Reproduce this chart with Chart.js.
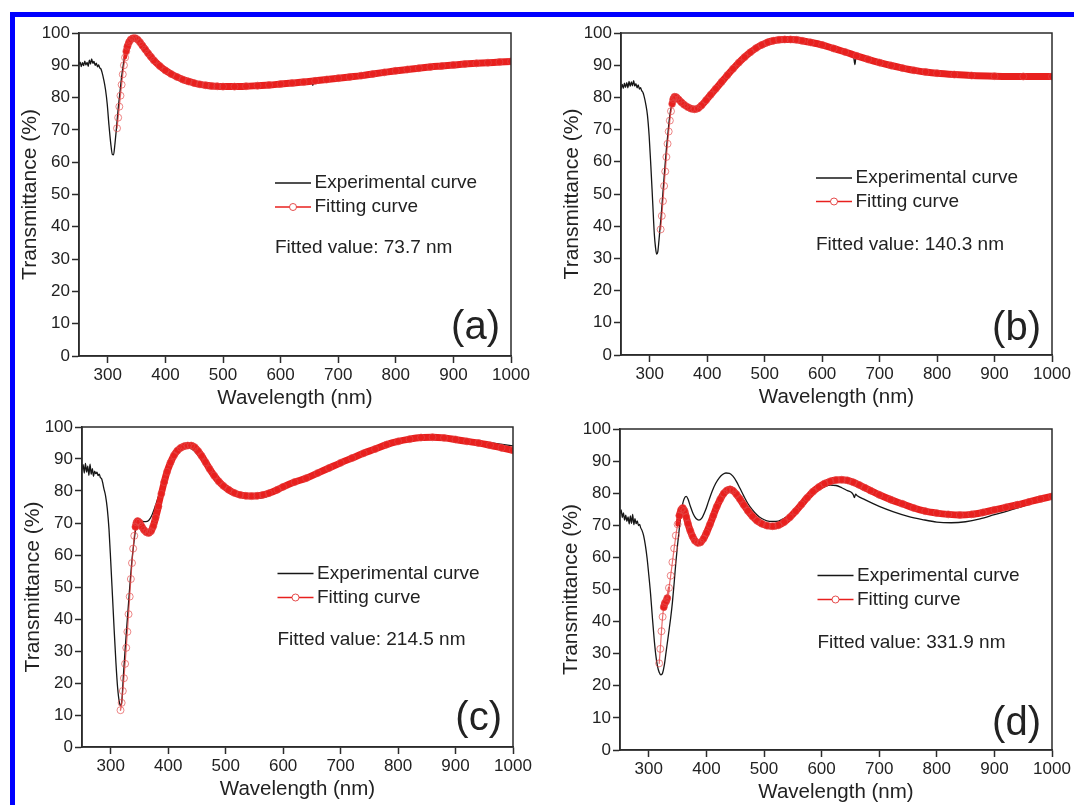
<!DOCTYPE html>
<html>
<head>
<meta charset="utf-8">
<title>Transmittance spectra and thickness fits</title>
<script src="https://cdn.jsdelivr.net/npm/chart.js@4.4.1/dist/chart.umd.min.js"></script>
<style>
  html, body { margin: 0; padding: 0; background: #fff; overflow: hidden; }
  #page { position: relative; width: 1074px; height: 805px; }
  #frame { position: absolute; left: 10px; top: 12px; right: 0; bottom: 0;
           border-top: 5px solid #0000ff; border-left: 5px solid #0000ff; }
  #page canvas { position: absolute; }
</style>
</head>
<body>
<div id="page"><div id="frame"></div></div>
<script>
// ---- data ----------------------------------------------------------------
const panelTags = ['(a)', '(b)', '(c)', '(d)'];
const fittedValues = [73.7, 140.3, 214.5, 331.9];          // film thickness, nm
const seriesNames = ['Experimental curve', 'Fitting curve'];
const xTickValues = [300, 400, 500, 600, 700, 800, 900, 1000];
const yTickValues = [0, 10, 20, 30, 40, 50, 60, 70, 80, 90, 100];

// (a)
const aExpWl = [250,252,254,256,258,260,262,264,266,268,270,272,274,276,278,280,282,284,286,288,290,
  293,296,299,302,305,308,310,312,315,318,321,324,327,330,334,338,342,347,352,358,
  365,372,380,390,400,415,430,450,475,500,530,560,600,650,654,656,658,662,700,750,
  800,850,900,950,1000];
const aExpT = [90.2,91.0,89.6,90.8,89.9,91.3,90.1,90.9,89.7,91.6,90.4,92.0,90.6,91.2,90.0,90.7,89.5,90.1,89.2,88.9,87.8,
  85.5,82.5,78,71.5,66,62.4,62.3,65,70.5,76.5,81.5,86.5,90.3,93.5,96,97.5,98.2,98.5,98,96.5,
  94.8,93.2,91.7,90,88.7,87,85.6,84.5,83.8,83.5,83.5,83.8,84.2,84.9,84.9,83.8,85.0,85.1,85.8,87,
  88.2,89.1,89.9,90.5,91];
const aFitWl = [316,318,320,322,324,326,328,330,332,334,337,340,344,348,352,356,360,365,370,375,
  380,390,400,410,420,430,440,450,460,470,480,490,500,520,540,560,580,600,620,640,
  660,680,700,720,740,760,780,800,820,840,860,880,900,920,940,960,980,1000];
const aFitT = [70.5,73.8,77.2,80.6,84,87.2,90,92.4,94.3,95.8,97.2,98,98.4,98.4,97.9,97.1,96.1,94.9,93.7,92.6,
  91.5,89.8,88.4,87.3,86.4,85.6,85,84.5,84.1,83.8,83.6,83.5,83.4,83.4,83.5,83.7,83.9,84.2,84.5,84.8,
  85.2,85.6,86,86.4,86.8,87.3,87.8,88.3,88.7,89.1,89.5,89.8,90.1,90.4,90.6,90.8,91,91.2];

// (b)
const bExpWl = [250,252,254,256,258,260,262,264,266,268,270,272,274,276,278,280,282,284,286,288,
  290,293,296,299,302,305,308,310,312,314,316,318,320,323,326,329,332,335,338,341,
  345,349,355,362,370,377,385,395,405,420,435,450,465,480,495,510,525,540,555,570,
  585,600,620,640,652,655,657,659,662,680,700,725,750,775,800,850,900,950,1000];
const bExpT = [82.5,84.0,82.8,84.4,83.1,84.6,83.0,85.0,83.4,84.8,83.6,85.2,83.5,84.3,83.0,83.9,82.6,83.0,82.1,81.6,
  80.5,78,74.5,68,58.5,48,37.5,33.5,31.3,32,35.5,39.5,43.5,50.5,57.5,64,69.5,74.5,77.5,79.3,
  80.2,79.8,78.8,77.7,76.8,76.4,76.9,78.7,80.6,83.7,86.8,89.6,92.2,94.3,96,97.2,97.9,98.2,98.1,97.8,
  97.2,96.6,95.4,94.2,93.4,92.5,90.2,92.8,93,92.2,91.2,90.1,89.2,88.5,87.9,87.2,86.8,86.6,86.5];
const bFitWl = [319,321,323,325,327,329,331,333,335,337,339,341,343,346,350,355,360,366,372,378,
  384,390,398,406,415,425,435,445,455,465,475,485,495,505,515,525,535,545,555,565,
  580,600,620,640,660,680,700,720,740,760,780,800,830,860,900,950,1000];
const bFitT = [39,43.2,47.8,52.5,57,61.5,65.6,69.4,72.8,75.7,78,79.5,80.2,80.1,79.4,78.5,77.7,77,76.5,76.3,
  76.6,77.5,79.1,80.8,82.7,84.8,86.9,88.9,90.8,92.5,94,95.3,96.3,97.1,97.6,97.9,98,98,97.9,97.6,
  97.1,96.3,95.2,94.1,92.9,91.8,90.8,89.9,89.1,88.4,87.9,87.5,87.1,86.8,86.6,86.5,86.5];

// (c)
const cExpWl = [250,252,254,256,258,260,262,264,266,268,270,272,274,276,278,280,282,284,286,
  288,291,294,297,300,303,306,309,312,315,317,319,322,325,328,331,334,337,340,343,
  347,351,356,361,366,371,377,383,389,395,401,408,415,423,431,438,445,452,460,470,
  480,490,500,512,525,540,555,570,585,600,625,650,675,700,725,750,775,800,825,850,
  875,900,925,950,975,1000];
const cExpT = [86.5,88.2,85.6,88.6,85.9,87.8,84.9,88.4,85.2,87.0,84.6,86.2,85.4,85.9,84.8,85.3,84.2,83.9,82.6,
  80.8,78.5,74.5,68,58,47.3,36.5,26.5,18.5,14,13,13.8,22.2,30.3,37.8,45,52.2,58.5,63.4,67.6,
  70.1,70.6,70.5,70.4,70.8,72.2,75,78.3,81.5,84.8,87.5,90,91.8,92.8,93.3,93.3,92.6,91.2,89.3,86.4,
  83.9,81.8,80.2,78.9,78.1,77.8,77.8,78.2,79.4,81.3,83.2,85,87,88.9,90.7,92.4,93.9,95.3,96.1,96.6,
  96.6,96.3,95.9,95.3,94.7,94.1];
const cFitWl = [317,319,321,323,325,327,329,331,333,335,337,339,341,343,345,347,350,354,358,362,
  366,370,374,378,383,388,393,398,404,410,416,422,428,434,440,446,452,458,465,472,
  480,488,496,505,515,525,535,545,555,565,575,590,600,620,640,660,680,700,720,740,
  760,780,800,820,840,860,880,900,920,940,960,980,1000];
const cFitT = [11.5,13.8,17.5,21.5,26,31,36,41.5,47,52.5,57.5,62,66,68.8,70.2,70.6,70.2,68.9,67.8,67.1,
  66.9,67.4,69,71.6,75.2,79.1,82.8,86,88.9,91.1,92.6,93.5,94,94.2,94.2,93.7,92.5,91,89,86.9,
  84.8,83,81.6,80.4,79.4,78.8,78.5,78.4,78.5,78.8,79.3,80.4,81.3,82.8,84,85.6,87.2,88.8,90.3,91.8,
  93.1,94.5,95.5,96.2,96.7,96.8,96.6,96.1,95.5,95,94.3,93.5,92.7];

// (d)
const dExpWl = [250,252,254,256,258,260,262,264,266,268,270,272,274,276,278,280,282,284,286,
  288,291,294,297,300,303,306,309,312,315,318,321,324,327,330,334,338,341,344,347,
  350,353,356,359,362,365,368,372,377,382,387,392,398,404,410,416,422,428,434,440,
  446,452,458,465,472,480,488,496,505,515,525,535,545,555,565,575,585,595,605,615,
  625,635,645,652,655,657,659,662,675,700,725,750,775,800,825,850,875,900,925,950,
  975,1000];
const dExpT = [73.6,74.8,72.4,73.9,71.6,73.2,71.2,72.6,70.4,72.9,70.6,73.4,70.2,72.1,70.5,71.4,69.9,70.3,69.2,
  68.5,66.8,63.8,59.8,54.5,48.8,41.8,35.2,29.8,26.2,24.2,23.4,24,26.5,30.5,35.8,41.2,46,52,58.5,
  64,69,73.5,76.8,78.5,79,78.2,76,73.6,72.1,71.6,72.2,74.5,77.6,80.6,83,84.7,85.8,86.3,86.2,
  85.3,83.7,81.6,79.1,76.8,74.8,73.2,72.1,71.4,71.2,71.3,72.2,73.3,74.8,76.6,78.4,80,81.2,82,82.5,
  82.4,81.7,80.8,80.2,79.5,78.6,79.7,79.2,78,75.9,74.2,72.8,71.8,71,70.8,71.1,72,73.3,74.6,76,
  77.3,78.5];
const dFitWl = [318,320,322,324,326,328,330,332,335,338,341,344,347,350,353,356,359,362,365,368,
  372,376,380,385,390,395,400,406,412,418,424,430,436,441,446,452,458,465,472,480,
  488,496,505,515,525,535,545,555,565,575,585,595,605,615,625,635,645,655,665,675,
  685,700,720,740,760,780,800,820,840,860,880,900,920,940,960,980,1000];
const dFitT = [27,31.5,37,41.5,44.5,45.8,46.3,47.3,50.5,54.3,58.5,62.8,66.8,70.3,73,74.8,75.4,74.5,72.6,70.5,
  68.3,66.5,65.2,64.5,64.7,65.8,67.6,70.2,73,75.8,78.1,79.9,80.9,81.2,80.8,79.7,78.2,76.3,74.5,72.8,
  71.4,70.5,69.9,69.7,70,71,72.5,74.4,76.5,78.6,80.5,81.9,83,83.7,84.1,84.2,84,83.4,82.6,81.7,
  80.8,79.5,78,76.7,75.4,74.4,73.8,73.4,73.2,73.4,74,74.8,75.6,76.4,77.3,78.2,79];

// ---- presentation ----------------------------------------------------------
const FONT = "'Liberation Sans', Arial, Helvetica, sans-serif";
const AXIS = '#2b2b2b';
const TEXT = '#222';
const FIT_RED = '#e8201e';
const FIT_RED_THIN = 'rgba(226,60,60,0.75)';
const EXP_BLACK = '#161616';

// canvas box [left, top, width, height] and legend placement inside the plot area
const panels = [
  { box: [17, 17, 518, 399],  exp: [aExpWl, aExpT], fit: [aFitWl, aFitT], legendX: 196,   rows: [150, 174, 215],     tagDy: 28 },
  { box: [559, 17, 517, 398], exp: [bExpWl, bExpT], fit: [bFitWl, bFitT], legendX: 195,   rows: [145, 168.5, 211.5], tagDy: 26.5 },
  { box: [20, 411, 517, 396], exp: [cExpWl, cExpT], fit: [cFitWl, cFitT], legendX: 195.5, rows: [146.5, 170.5, 212.5], tagDy: 28 },
  { box: [558, 413, 518, 397], exp: [dExpWl, dExpT], fit: [dFitWl, dFitT], legendX: 197.5, rows: [146.5, 170.5, 213.5], tagDy: 26.5 }
];

const toPoints = (xs, ys) => xs.map((x, i) => ({ x: x, y: ys[i] }));

// pixel slope of one segment of the fitted line
function segSlope(ctx) {
  const dx = Math.abs(ctx.p1.x - ctx.p0.x);
  const dy = Math.abs(ctx.p1.y - ctx.p0.y);
  return dy / Math.max(dx, 0.001);
}

// the fit is sampled densely, so where it is flat the markers merge into a thick band
function bandWidth(ctx) {
  const s = segSlope(ctx);
  if (s <= 4) return 7;
  if (s >= 6.5) return 1.2;
  return 7 - (s - 4) / 2.5 * 5.8;
}
function bandColor(ctx) {
  return segSlope(ctx) >= 5.5 ? FIT_RED_THIN : FIT_RED;
}

// frame, in-plot legend, fitted value and panel letter
const panelDecor = {
  id: 'panelDecor',
  afterDatasetsDraw(chart, args, opts) {
    const { ctx, chartArea: a } = chart;
    ctx.save();
    ctx.strokeStyle = AXIS;
    ctx.lineWidth = 1.5;
    ctx.strokeRect(a.left, a.top, a.right - a.left, a.bottom - a.top);

    const x0 = a.left + opts.legendX;
    const x1 = x0 + 36;
    const r = opts.rows.map(v => a.top + v);

    ctx.lineWidth = 1.4;
    ctx.strokeStyle = EXP_BLACK;
    ctx.beginPath(); ctx.moveTo(x0, r[0]); ctx.lineTo(x1, r[0]); ctx.stroke();

    ctx.strokeStyle = FIT_RED;
    ctx.beginPath(); ctx.moveTo(x0, r[1]); ctx.lineTo(x1, r[1]); ctx.stroke();
    ctx.fillStyle = '#fff';
    ctx.lineWidth = 1;
    ctx.strokeStyle = 'rgba(225,45,45,0.85)';
    ctx.beginPath(); ctx.arc((x0 + x1) / 2, r[1], 3.5, 0, Math.PI * 2); ctx.fill(); ctx.stroke();

    ctx.fillStyle = TEXT;
    ctx.textBaseline = 'middle';
    ctx.textAlign = 'left';
    ctx.font = '19px ' + FONT;
    ctx.fillText(seriesNames[0], x1 + 3.5, r[0]);
    ctx.fillText(seriesNames[1], x1 + 3.5, r[1]);
    ctx.fillText('Fitted value: ' + opts.fitted.toFixed(1) + ' nm', x0, r[2]);

    ctx.font = '40px ' + FONT;
    ctx.textAlign = 'right';
    ctx.fillText(opts.tag, a.right - 11, a.bottom - opts.tagDy);
    ctx.restore();
  }
};

const page = document.getElementById('page');

panels.forEach((p, i) => {
  const cv = document.createElement('canvas');
  cv.width = p.box[2];
  cv.height = p.box[3];
  cv.style.left = p.box[0] + 'px';
  cv.style.top = p.box[1] + 'px';
  page.appendChild(cv);

  new Chart(cv, {
    type: 'line',
    data: {
      datasets: [
        {
          label: seriesNames[1],
          data: toPoints(p.fit[0], p.fit[1]),
          order: 0,
          borderColor: FIT_RED,
          borderWidth: 7,
          borderCapStyle: 'round',
          borderJoinStyle: 'round',
          segment: { borderWidth: bandWidth, borderColor: bandColor },
          cubicInterpolationMode: 'monotone',
          pointStyle: 'circle',
          pointRadius: 3.5,
          pointBorderWidth: 1,
          pointBorderColor: 'rgba(228,70,70,0.65)',
          pointBackgroundColor: 'rgba(255,255,255,0)',
          fill: false
        },
        {
          label: seriesNames[0],
          data: toPoints(p.exp[0], p.exp[1]),
          order: 1,
          borderColor: EXP_BLACK,
          borderWidth: 1.3,
          cubicInterpolationMode: 'monotone',
          pointRadius: 0,
          fill: false
        }
      ]
    },
    options: {
      responsive: false,
      devicePixelRatio: 1,
      animation: false,
      events: [],
      layout: { padding: { top: 16, right: 24, left: 0, bottom: 0 } },
      plugins: {
        legend: { display: false },
        tooltip: { enabled: false },
        panelDecor: {
          tag: panelTags[i],
          fitted: fittedValues[i],
          legendX: p.legendX,
          rows: p.rows,
          tagDy: p.tagDy
        }
      },
      scales: {
        x: {
          type: 'linear',
          min: 250,
          max: 1000,
          afterFit: s => { s.height = 60; },
          afterBuildTicks: s => { s.ticks = xTickValues.map(v => ({ value: v })); },
          border: { display: true, color: AXIS, width: 1.5 },
          grid: { display: true, drawOnChartArea: false, drawTicks: true, tickLength: 7, tickWidth: 1.5, tickColor: AXIS },
          ticks: { padding: 2, color: TEXT, font: { family: FONT, size: 17 }, maxRotation: 0, autoSkip: false,
                   callback: v => String(v) },
          title: { display: true, text: 'Wavelength (nm)', color: TEXT, font: { family: FONT, size: 20.5 }, padding: { top: 0, bottom: 5 } }
        },
        y: {
          type: 'linear',
          min: 0,
          max: 100,
          afterFit: s => { s.width = 62; },
          afterBuildTicks: s => { s.ticks = yTickValues.map(v => ({ value: v })); },
          border: { display: true, color: AXIS, width: 1.5 },
          grid: { display: true, drawOnChartArea: false, drawTicks: true, tickLength: 7, tickWidth: 1.5, tickColor: AXIS },
          ticks: { padding: 2, color: TEXT, font: { family: FONT, size: 17 }, autoSkip: false,
                   callback: v => String(v) },
          title: { display: true, text: 'Transmittance (%)', color: TEXT, font: { family: FONT, size: 21 }, padding: { top: 1, bottom: 0 } }
        }
      }
    },
    plugins: [panelDecor]
  });
});
</script>
</body>
</html>
